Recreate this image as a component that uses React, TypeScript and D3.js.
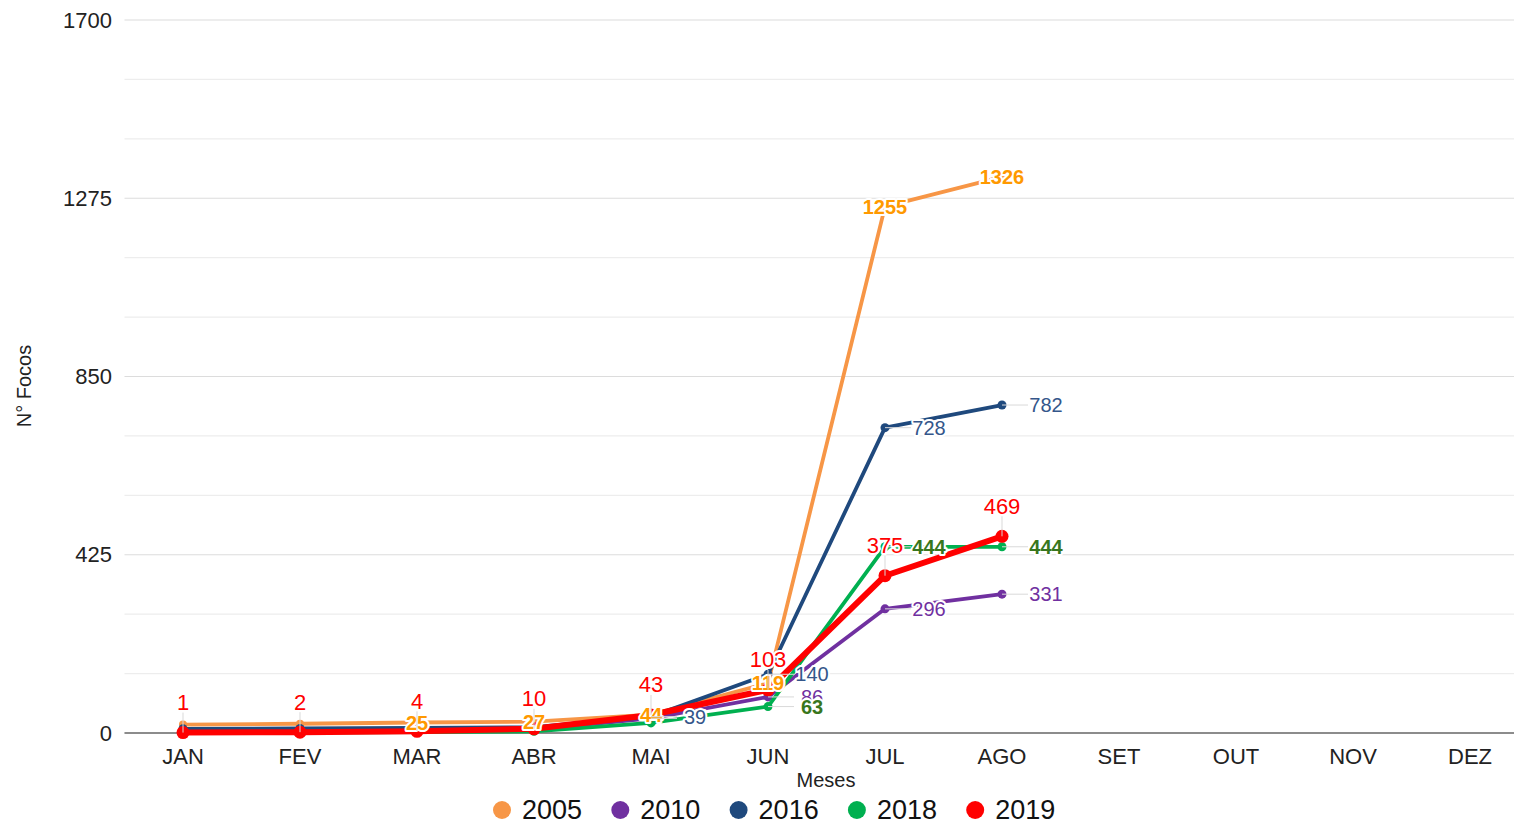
import * as React from 'react';
import { scalePoint, scaleLinear, line as d3line, range } from 'd3';

const months = ['JAN', 'FEV', 'MAR', 'ABR', 'MAI', 'JUN', 'JUL', 'AGO', 'SET', 'OUT', 'NOV', 'DEZ'];
const yTicks = [0, 425, 850, 1275, 1700];

const years = ['2005', '2010', '2016', '2018', '2019'];
const v2005 = [20, 22, 25, 27, 44, 119, 1255, 1326];
const v2010 = [3, 4, 6, 8, 35, 86, 296, 331];
const v2016 = [10, 11, 12, 14, 39, 140, 728, 782];
const v2018 = [0, 1, 2, 4, 24, 63, 444, 444];
const v2019 = [1, 2, 4, 10, 43, 103, 375, 469];

type LabelPos = 'center' | 'right' | 'above';
interface Series {
  name: string;
  values: number[];
  color: string;
  labelColor: string;
  bold: boolean;
  width: number;
  r: number;
  pos: LabelPos;
  firstLabel: number; // first month index with a visible label
}

const series: Series[] = [
  { name: years[0], values: v2005, color: '#f79646', labelColor: '#ff9900', bold: true, width: 3.8, r: 4, pos: 'center', firstLabel: 2 },
  { name: years[1], values: v2010, color: '#7030a0', labelColor: '#7030a0', bold: false, width: 3.8, r: 4.5, pos: 'right', firstLabel: 4 },
  { name: years[2], values: v2016, color: '#1f497d', labelColor: '#34568a', bold: false, width: 3.8, r: 4.5, pos: 'right', firstLabel: 4 },
  { name: years[3], values: v2018, color: '#00b050', labelColor: '#38761d', bold: true, width: 3.8, r: 4.5, pos: 'right', firstLabel: 5 },
  { name: years[4], values: v2019, color: '#ff0000', labelColor: '#ff0000', bold: false, width: 6, r: 6.5, pos: 'above', firstLabel: 0 },
];

const W = 1514;
const H = 824;
const FONT = '"Liberation Sans", Arial, sans-serif';

export default function App() {
  const x = scalePoint<string>().domain(months).range([124.5, 1528.5]).padding(0.5);
  const y = scaleLinear().domain([0, 1700]).range([733, 20]);
  const grid = range(0, 1700 + 1, 425 / 3);

  const mk = (s: Series) =>
    d3line<number>()
      .x((_, i) => x(months[i]) ?? 0)
      .y(v => y(v))(s.values) ?? '';

  const labels = series.flatMap(s =>
    s.values.map((v, i) => {
      if (i < s.firstLabel) return null;
      const px = x(months[i]) ?? 0;
      const py = y(v);
      let lx = px, ly = py;
      if (s.pos === 'right') lx = px + 44;
      if (s.pos === 'above') ly = py - 30;
      return (
        <g key={s.name + i}>
          {s.pos !== 'center' && (
            <line x1={px} y1={py} x2={s.pos === 'right' ? lx - 18 : lx} y2={s.pos === 'above' ? ly + 10 : ly}
              stroke="#d9d9d9" strokeWidth={1} />
          )}
          <text x={lx} y={ly} textAnchor="middle" dominantBaseline="central"
            fontSize={s.pos === 'above' ? 22 : 20} fontWeight={s.bold ? 'bold' : 'normal'} fill={s.labelColor}
            stroke="#fff" strokeWidth={4} strokeLinejoin="round" style={{ paintOrder: 'stroke' }}>
            {v}
          </text>
        </g>
      );
    })
  );

  return (
    <svg width={W} height={H} style={{ position: 'absolute', left: 0, top: 0, background: '#fff' }} fontFamily={FONT}>
      {/* gridlines */}
      {grid.map((g, i) => (
        <line key={i} x1={124.5} x2={1514} y1={y(g)} y2={y(g)}
          stroke={i % 3 === 0 ? '#dcdcdc' : '#ededed'} strokeWidth={1.2} />
      ))}
      <line x1={124.5} x2={1514} y1={y(0)} y2={y(0)} stroke="#8c8c8c" strokeWidth={2} />

      {yTicks.map(t => (
        <text key={t} x={112} y={y(t)} textAnchor="end" dominantBaseline="central" fontSize={22} fill="#222">{t}</text>
      ))}
      {months.map(m => (
        <text key={m} x={x(m)} y={756} textAnchor="middle" dominantBaseline="central" fontSize={22} fill="#222">{m}</text>
      ))}
      <text x={826} y={780} textAnchor="middle" dominantBaseline="central" fontSize={20} fill="#222">Meses</text>
      <text transform="translate(24,386) rotate(-90)" textAnchor="middle" dominantBaseline="central" fontSize={20} fill="#222">N° Focos</text>

      {/* lines */}
      {series.map(s => (
        <g key={s.name}>
          <path d={mk(s)} fill="none" stroke={s.color} strokeWidth={s.width} strokeLinejoin="round" />
          {s.values.map((v, i) => (
            <circle key={i} cx={x(months[i])} cy={y(v)} r={s.r} fill={s.color} />
          ))}
        </g>
      ))}

      {labels}

      {/* legend */}
      {series.map((s, i) => (
        <g key={s.name} transform={`translate(${502 + i * 118.3},810)`}>
          <circle cx={0} cy={0} r={9} fill={s.color} />
          <text x={20} y={0} dominantBaseline="central" fontSize={27} fill="#111">{s.name}</text>
        </g>
      ))}
    </svg>
  );
}
